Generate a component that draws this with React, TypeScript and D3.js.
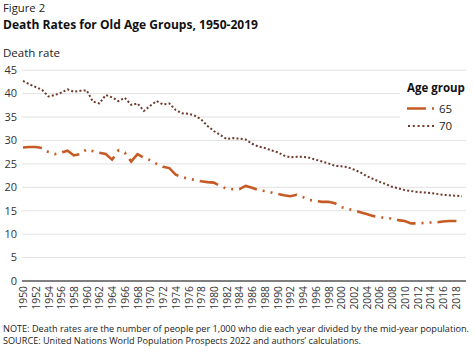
import React from "react";
import * as d3 from "d3";

const years: number[] = d3.range(1950, 2020);
const age65: number[] = [
  28.5, 28.6, 28.6, 28.4, 27.5, 27.1, 27.4, 27.8, 26.8, 27.1,
  28.1, 27.7, 27.4, 27.1, 25.9, 27.9, 27.4, 25.5, 27.1, 26.3,
  25.8, 25.0, 24.4, 24.1, 22.7, 22.2, 21.8, 21.6, 21.3, 21.1,
  21.0, 20.3, 19.7, 19.6, 19.6, 20.3, 19.9, 19.4, 19.2, 18.9,
  18.6, 18.3, 18.1, 18.4, 17.9, 17.3, 17.1, 16.9, 16.9, 16.6,
  15.8, 15.4, 15.1, 14.7, 14.3, 13.9, 13.6, 13.5, 13.3, 13.0,
  12.8, 12.3, 12.3, 12.4, 12.5, 12.5, 12.7, 12.8, 12.8, 12.6,
];
const age70: number[] = [
  42.7, 42.0, 41.4, 40.8, 39.4, 39.7, 40.2, 40.9, 40.4, 40.6,
  40.7, 38.3, 37.9, 39.7, 39.2, 38.4, 39.1, 37.6, 37.9, 36.3,
  37.4, 38.4, 37.7, 37.9, 36.5, 35.8, 35.7, 35.3, 34.5, 33.1,
  32.0, 31.2, 30.3, 30.5, 30.4, 30.2, 29.3, 28.7, 28.4, 27.9,
  27.5, 26.8, 26.4, 26.5, 26.5, 26.3, 25.9, 25.5, 25.1, 24.6,
  24.5, 24.3, 23.8, 23.2, 22.4, 21.8, 21.2, 20.7, 20.1, 19.8,
  19.4, 19.2, 19.0, 18.9, 18.8, 18.6, 18.4, 18.3, 18.2, 18.1,
];
const yTicks: number[] = [0, 5, 10, 15, 20, 25, 30, 35, 40, 45];
const xTicks: number[] = d3.range(1950, 2019, 2);
const seriesNames: string[] = ["65", "70"];

const FONT = "'Open Sans', 'Noto Sans', sans-serif";
const C65 = "#c65b26";
const C70 = "#6e3a2c";
const DASH65 = "19,6,2,6,2,6";
const DASH70 = "2,2.2";

export default function App() {
  const W = 474;
  const H = 359;
  const x = d3.scaleLinear().domain([1950, 2019]).range([23, 462]);
  const y = d3.scaleLinear().domain([0, 45]).range([281, 70.2]);
  const line = d3
    .line<number>()
    .x((_, i) => x(years[i]))
    .y((d) => y(d));

  return (
    <svg
      width={W}
      height={H}
      style={{ position: "absolute", left: 0, top: 0, background: "#fff" }}
      fontFamily={FONT}
    >
      <text x={3} y={12.3} fontSize={11.3} fill="#222">Figure 2</text>
      <text x={3} y={28.5} fontSize={12} fontWeight="bold" fill="#111" textLength={255} lengthAdjust="spacingAndGlyphs">
        Death Rates for Old Age Groups, 1950-2019
      </text>
      <text x={3} y={57} fontSize={11.5} fill="#222">Death rate</text>

      {yTicks.map((t) => (
        <g key={t}>
          {t > 0 && (
            <line x1={22} x2={466} y1={y(t)} y2={y(t)} stroke="#e2e2e2" strokeWidth={1} />
          )}
          <text x={17} y={y(t)} dy="0.35em" textAnchor="end" fontSize={11} fill="#333">
            {t}
          </text>
        </g>
      ))}

      {/* legend background */}
      <rect x={400} y={78} width={70} height={58} fill="#fff" />

      <line x1={22} x2={466} y1={y(0)} y2={y(0)} stroke="#7f7f7f" strokeWidth={2} />

      {xTicks.map((t) => (
        <text
          key={t}
          transform={`translate(${x(t) + 0.5},286) rotate(-90)`}
          dy="0.35em"
          textAnchor="end"
          fontSize={10.3}
          fill="#333"
        >
          {t}
        </text>
      ))}

      <path d={line(age70) || ""} fill="none" stroke={C70} strokeWidth={2} strokeDasharray={DASH70} />
      <path d={line(age65) || ""} fill="none" stroke={C65} strokeWidth={2.6} strokeDasharray={DASH65} />

      {/* legend */}
      <text x={407} y={92} fontSize={11.5} fontWeight="bold" fill="#111">Age group</text>
      <line x1={407} x2={436} y1={108.5} y2={108.5} stroke={C65} strokeWidth={2.6} strokeDasharray={DASH65} />
      <text x={439} y={108.5} dy="0.35em" fontSize={11.5} fill="#222">{seriesNames[0]}</text>
      <line x1={408} x2={434} y1={126} y2={126} stroke={C70} strokeWidth={2} strokeDasharray="2,2.8" />
      <text x={439} y={126} dy="0.35em" fontSize={11.5} fill="#222">{seriesNames[1]}</text>

      <text x={3} y={332.3} fontSize={8.5} fill="#222" textLength={466} lengthAdjust="spacingAndGlyphs">
        NOTE: Death rates are the number of people per 1,000 who die each year divided by the mid-year population.
      </text>
      <text x={3} y={344} fontSize={8.5} fill="#222" textLength={358} lengthAdjust="spacingAndGlyphs">
        SOURCE: United Nations World Population Prospects 2022 and authors’ calculations.
      </text>
    </svg>
  );
}
